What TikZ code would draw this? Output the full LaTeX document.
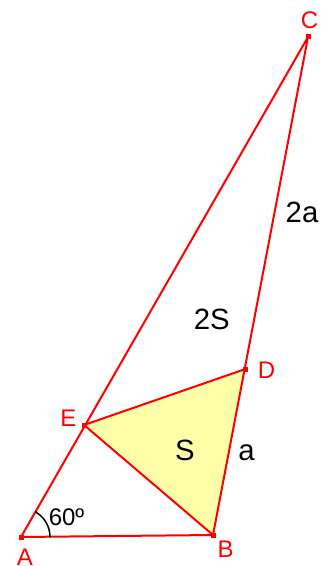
\documentclass[tikz,border=0pt]{standalone}
\usepackage{fontspec}
\setmainfont{Liberation Sans}
\usetikzlibrary{arrows.meta,positioning}
\definecolor{ptred}{RGB}{255,0,0}
\definecolor{triyellow}{RGB}{255,255,170}
\tikzset{
  side/.style={draw=ptred,line width=1.5pt},
  ptlabel/.style={text=ptred,font=\fontsize{18}{21}\selectfont,inner sep=0pt,anchor=base},
  txtlabel/.style={text=black,font=\fontsize{22}{26}\selectfont,inner sep=0pt,anchor=base}
}
\begin{document}
\begin{tikzpicture}[x=0.75pt,y=-0.75pt,line cap=round,line join=round]
\path[use as bounding box] (0,0) rectangle (322,566);
\coordinate (A) at (21,537);
\coordinate (B) at (213,535);
\coordinate (C) at (308,37);
\coordinate (D) at (245.5,369);
\coordinate (E) at (84,425);
\fill[triyellow] (E) -- (B) -- (D) -- cycle;
\draw[side] (A) -- (B);
\draw[side] (A) -- (C);
\draw[side] (B) -- (C);
\draw[side] (E) -- (D);
\draw[side] (E) -- (B);
\draw[black,line width=1.1pt] ([shift={(0:29)}]A) arc[start angle=0,end angle=-60,radius=29];
\foreach \p in {A,B,C,D,E}
  \fill[ptred] (\p) ++(-2.5,-2.5) rectangle ++(5,5);
\node[ptlabel] (labA) at (25,565.5) {A};
\node[ptlabel] (labB) at (225.5,557.5) {B};
\node[ptlabel] (labC) at (309.5,28.5) {C};
\node[ptlabel] (labD) at (266.5,378) {D};
\node[ptlabel] (labE) at (68.3,426) {E};
\node[ptlabel,text=black] (ang) at (66.5,525.5) {60º};
\node[txtlabel] (side2a) at (302,222.5) {2a};
\node[txtlabel] (area2S) at (211.7,329) {2S};
\node[txtlabel] (areaS) at (185,460) {S};
\node[txtlabel] (sidea) at (246.5,460) {a};
\end{tikzpicture}
\end{document}
